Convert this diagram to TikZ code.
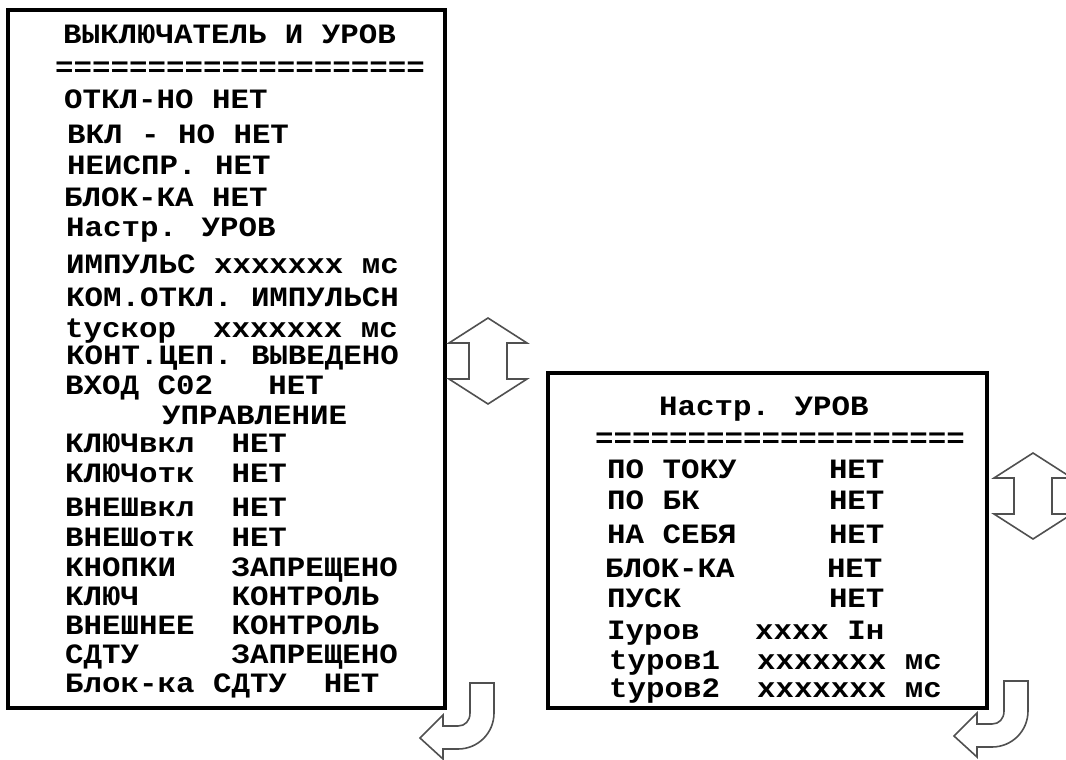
\documentclass[tikz,border=0pt]{standalone}
\usepackage{fontspec}
\newfontfamily\menumono[FakeStretch=1.1]{Liberation Mono}
\newcommand{\menufont}{\menumono\bfseries\fontsize{28}{34}\selectfont}
\definecolor{navgray}{RGB}{80,80,80}

\begin{document}
\begin{tikzpicture}[x=1pt,y=-1pt]
        \tikzstyle{menuline}=[anchor=base west,inner sep=0pt,font=\menufont]
        \tikzstyle{rulerow}=[menuline,text height=13pt,text depth=0pt]
        \tikzstyle{menuframe}=[draw=black,line width=4pt]
        \tikzstyle{navarrow}=[draw=navgray,line width=1.6pt,line join=miter,fill=white]
        \tikzset{
          updown/.pic={\draw[navarrow] (0,0) -- (39,25) -- (19,25) -- (19,61) -- (39,61) -- (0,86)
            -- (-39,61) -- (-19,61) -- (-19,25) -- (-39,25) -- cycle;},
          turnback/.pic={\draw[navarrow] (0,0) -- (24,0) -- (24,30) .. controls (24,50) and (8,66) .. (-12,66)
            -- (-27,66) -- (-27,76) -- (-50,55) -- (-27,32) -- (-27,43) -- (-12,43)
            .. controls (-5,43) and (0,38) .. (0,30) -- cycle;}
        }
        \useasboundingbox (0,0) rectangle (1066,760);
        \draw[menuframe] (8,10) rectangle (445,708);
        \draw[menuframe] (548,373) rectangle (987,708);
        \node[menuline] (brkTitle) at (63,44) {ВЫКЛЮЧАТЕЛЬ И УРОВ};
        \node[rulerow] (brkRule) at (55,77) {====================};
        \node[menuline] (brkOff) at (64,109) {ОТКЛ-НО НЕТ};
        \node[menuline] (brkOn) at (67,143) {ВКЛ - НО НЕТ};
        \node[menuline] (brkFault) at (67,174) {НЕИСПР. НЕТ};
        \node[menuline] (brkBlock) at (64,206) {БЛОК-КА НЕТ};
        \node[menuline] (brkSet) at (66,236) {Настр. УРОВ};
        \node[menuline] (brkPulse) at (66,273) {ИМПУЛЬС xxxxxxx мс};
        \node[menuline] (brkCmd) at (66,306) {КОМ.ОТКЛ. ИМПУЛЬСН};
        \node[menuline] (brkTacc) at (65,337) {tускор~~xxxxxxx мс};
        \node[menuline] (brkCirc) at (66,364) {КОНТ.ЦЕП. ВЫВЕДЕНО};
        \node[menuline] (brkInput) at (65,394) {ВХОД С02~~~НЕТ};
        \node[menuline] (brkCtrl) at (162,424) {УПРАВЛЕНИЕ};
        \node[menuline] (brkKeyOn) at (65,452) {КЛЮЧвкл~~НЕТ};
        \node[menuline] (brkKeyOff) at (65,482) {КЛЮЧотк~~НЕТ};
        \node[menuline] (brkExtOn) at (65,516) {ВНЕШвкл~~НЕТ};
        \node[menuline] (brkExtOff) at (65,546) {ВНЕШотк~~НЕТ};
        \node[menuline] (brkButtons) at (65,576) {КНОПКИ~~~ЗАПРЕЩЕНО};
        \node[menuline] (brkKey) at (65,605) {КЛЮЧ~~~~~КОНТРОЛЬ};
        \node[menuline] (brkExt) at (65,634) {ВНЕШНЕЕ~~КОНТРОЛЬ};
        \node[menuline] (brkSdtu) at (65,663) {СДТУ~~~~~ЗАПРЕЩЕНО};
        \node[menuline] (brkSdtuBlk) at (65,692) {Блок-ка СДТУ~~НЕТ};
        \node[menuline] (urovTitle) at (659,415) {Настр. УРОВ};
        \node[rulerow] (urovRule) at (595,447) {====================};
        \node[menuline] (urovCurrent) at (607,478) {ПО ТОКУ~~~~~НЕТ};
        \node[menuline] (urovBk) at (607,509) {ПО БК~~~~~~~НЕТ};
        \node[menuline] (urovSelf) at (607,543) {НА СЕБЯ~~~~~НЕТ};
        \node[menuline] (urovBlock) at (605,577) {БЛОК-КА~~~~~НЕТ};
        \node[menuline] (urovStart) at (607,607) {ПУСК~~~~~~~~НЕТ};
        \node[menuline] (urovIset) at (607,639) {Iуров~~~xxxx Iн};
        \node[menuline] (urovT1) at (609,669) {tуров1~~xxxxxxx мс};
        \node[menuline] (urovT2) at (609,697) {tуров2~~xxxxxxx мс};
        \pic at (488,318) {updown};
        \pic at (1033,453) {updown};
        \pic at (470,683) {turnback};
        \pic at (1004,681) {turnback};
      \end{tikzpicture}
\end{document}
